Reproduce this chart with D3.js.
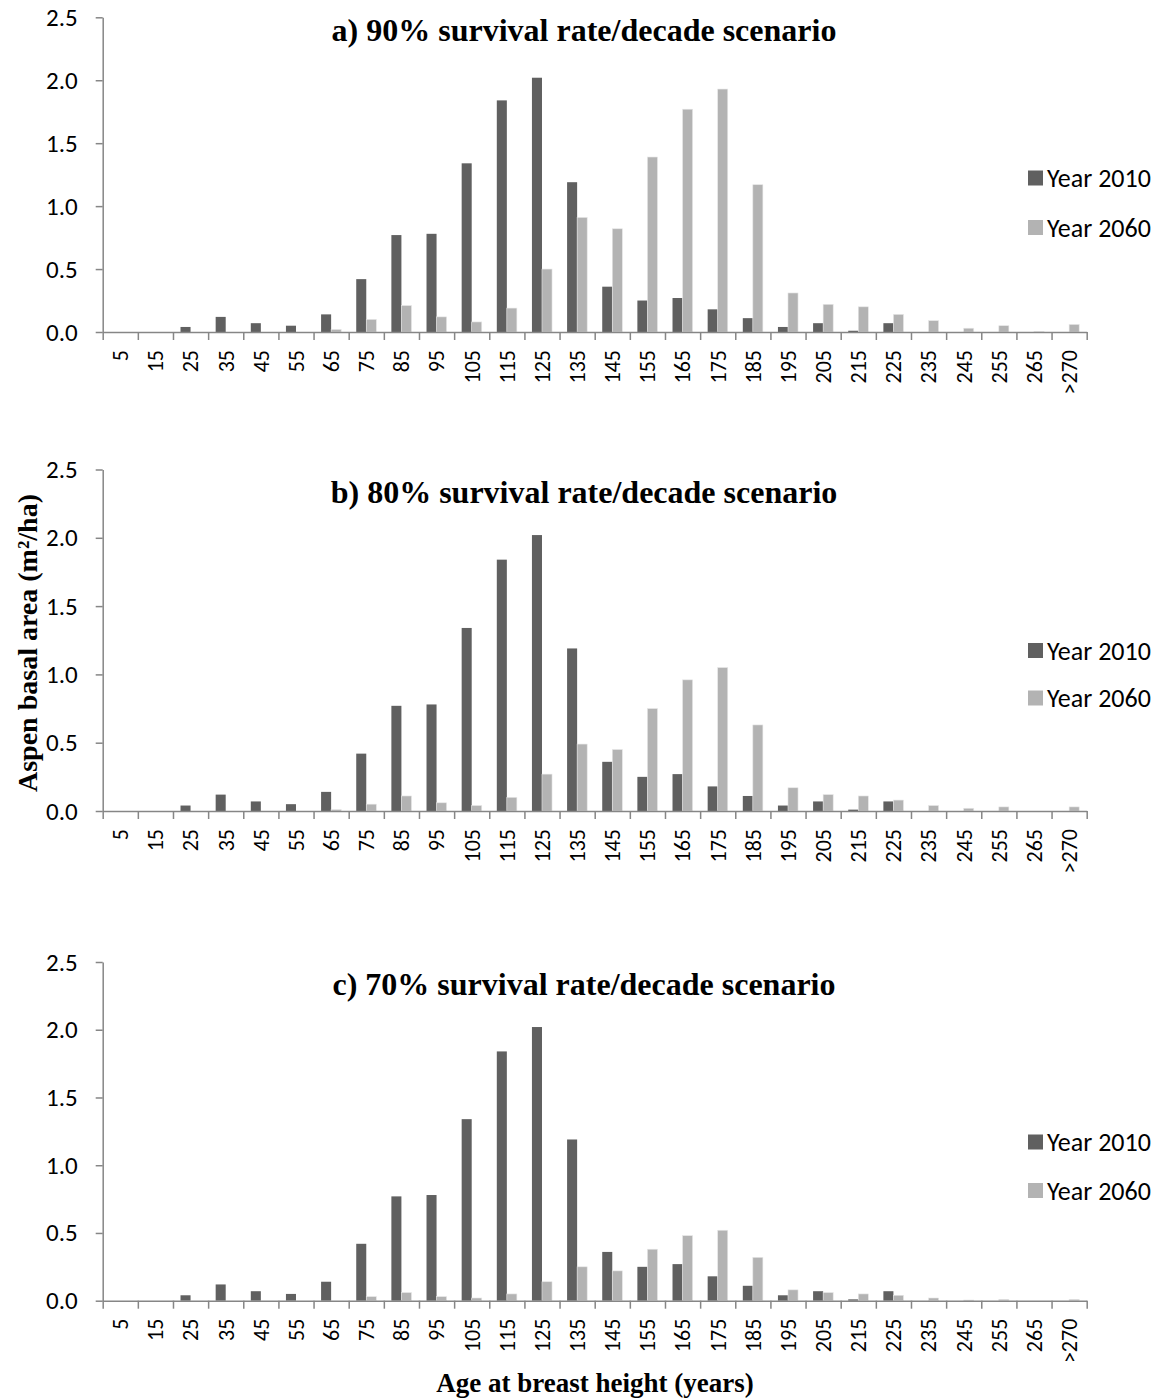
<!DOCTYPE html>
<html>
<head>
<meta charset="utf-8">
<script src="https://cdn.jsdelivr.net/npm/d3@7"></script>
<style>
  body { margin: 0; background: #fff; }
  svg { display: block; }
  .tick text { font-family: Carlito, Lato, sans-serif; fill: #000; }
  .title { font-family: "Liberation Serif", "Times New Roman", serif; font-weight: bold; }
</style>
</head>
<body>
<svg id="chart" width="1164" height="1399"></svg>
<script>
// age classes (years at breast height)
var ageClasses = ['5','15','25','35','45','55','65','75','85','95','105','115','125','135',
  '145','155','165','175','185','195','205','215','225','235','245','255','265','>270'];

// aspen basal area, m2/ha
var year2010 = [0,0,0.04,0.12,0.07,0.05,0.14,0.42,0.77,0.78,1.34,1.84,2.02,1.19,
  0.36,0.25,0.27,0.18,0.11,0.04,0.07,0.01,0.07,0,0,0,0,0];
var year2060s90 = [0,0,0,0,0,0,0.02,0.10,0.21,0.12,0.08,0.19,0.50,0.91,
  0.82,1.39,1.77,1.93,1.17,0.31,0.22,0.20,0.14,0.09,0.03,0.05,0.005,0.06];
var year2060s80 = [0,0,0,0,0,0,0.01,0.05,0.11,0.06,0.04,0.10,0.27,0.49,
  0.45,0.75,0.96,1.05,0.63,0.17,0.12,0.11,0.08,0.04,0.02,0.03,0,0.03];
var year2060s70 = [0,0,0,0,0,0,0,0.03,0.06,0.03,0.02,0.05,0.14,0.25,
  0.22,0.38,0.48,0.52,0.32,0.08,0.06,0.05,0.04,0.02,0.005,0.01,0,0.01];

var seriesNames = ['Year 2010','Year 2060'];
var seriesColors = ['#606060','#b3b3b3'];
var yTicks = [0,0.5,1.0,1.5,2.0,2.5];
var panelTitles = ['a) 90% survival rate/decade scenario',
  'b) 80% survival rate/decade scenario',
  'c) 70% survival rate/decade scenario'];

var panels = [
  {title: panelTitles[0], later: year2060s90, top: 17.3, base: 332, titleY: 41, legY: [178, 227.5]},
  {title: panelTitles[1], later: year2060s80, top: 469.5, base: 811, titleY: 503, legY: [650.5, 698]},
  {title: panelTitles[2], later: year2060s70, top: 962, base: 1300.7, titleY: 995, legY: [1142, 1190.5]}
];

var svg = d3.select('#chart');
var left = 102.7, right = 1086.7;
var axisColor = '#868686';

var x0 = d3.scaleBand().domain(ageClasses).range([left, right])
  .paddingInner(1.5 / 3.5).paddingOuter(0.75 / 3.5);
var x1 = d3.scaleBand().domain(seriesNames).range([0, x0.bandwidth()]);
// ticks sit between the categories
var xEdge = d3.scaleLinear().domain([0, ageClasses.length]).range([left, right]);

panels.forEach(function(p, pi) {
  var y = d3.scaleLinear().domain([0, 2.5]).range([p.base, p.top]);
  var g = svg.append('g');

  var rows = ageClasses.map(function(c, i) {
    return {cat: c, vals: [year2010[i], p.later[i]]};
  });

  var groups = g.selectAll('.grp').data(rows).enter().append('g')
    .attr('class','grp')
    .attr('transform', function(d) { return 'translate(' + x0(d.cat) + ',0)'; });

  groups.selectAll('rect').data(function(d) {
    return d.vals.map(function(v, k) { return {name: seriesNames[k], v: v, k: k}; });
  }).enter().append('rect')
    .attr('x', function(d) { return x1(d.name); })
    .attr('width', x1.bandwidth())
    .attr('y', function(d) { return y(d.v); })
    .attr('height', function(d) { return y(0) - y(d.v); })
    .attr('fill', function(d) { return seriesColors[d.k]; })
    .attr('stroke', function(d) { return d.k ? '#e6e6e6' : 'none'; })
    .attr('stroke-width', 0.6);

  // y axis
  var ya = g.append('g').attr('transform','translate(' + left + ',0)')
    .call(d3.axisLeft(y).tickValues(yTicks).tickFormat(d3.format('.1f'))
      .tickSize(7).tickSizeOuter(0).tickPadding(18));
  ya.selectAll('text').style('font-size','25px');

  // x axis: line + ticks at category edges
  var xa = g.append('g').attr('transform','translate(0,' + p.base + ')')
    .call(d3.axisBottom(xEdge).tickValues(d3.range(ageClasses.length + 1))
      .tickFormat('').tickSize(8).tickSizeOuter(0));

  // x labels, rotated
  var xl = g.append('g').attr('transform','translate(0,' + p.base + ')')
    .call(d3.axisBottom(x0).tickSize(0));
  xl.select('.domain').remove();
  xl.selectAll('text')
    .attr('transform','rotate(-90)')
    .attr('x', -18).attr('y', 0).attr('dy','0.36em')
    .style('text-anchor','end')
    .style('font-size','22px');

  [ya, xa].forEach(function(a) {
    a.selectAll('.domain, line').attr('stroke', axisColor).attr('stroke-width', 1.5);
  });

  g.append('text').attr('class','title')
    .attr('x', 584).attr('y', p.titleY)
    .attr('text-anchor','middle')
    .style('font-size','32px')
    .text(p.title);

  // legend
  var leg = g.selectAll('.leg').data(seriesNames).enter().append('g')
    .attr('transform', function(d, i) { return 'translate(1028,' + p.legY[i] + ')'; });
  leg.append('rect').attr('x',0).attr('y',-7.5).attr('width',15).attr('height',15)
    .attr('fill', function(d, i) { return seriesColors[i]; });
  leg.append('text').attr('x', 19).attr('dy','0.36em')
    .style('font-family','Carlito, Lato, sans-serif').style('font-size','26px')
    .text(function(d) { return d; });
});

svg.append('text').attr('class','title')
  .attr('transform','translate(37,643) rotate(-90)')
  .attr('text-anchor','middle')
  .style('font-size','28px')
  .text('Aspen basal area (m\u00B2/ha)');

svg.append('text').attr('class','title')
  .attr('x', 595).attr('y', 1392)
  .attr('text-anchor','middle')
  .style('font-size','27px')
  .text('Age at breast height (years)');
</script>
</body>
</html>
